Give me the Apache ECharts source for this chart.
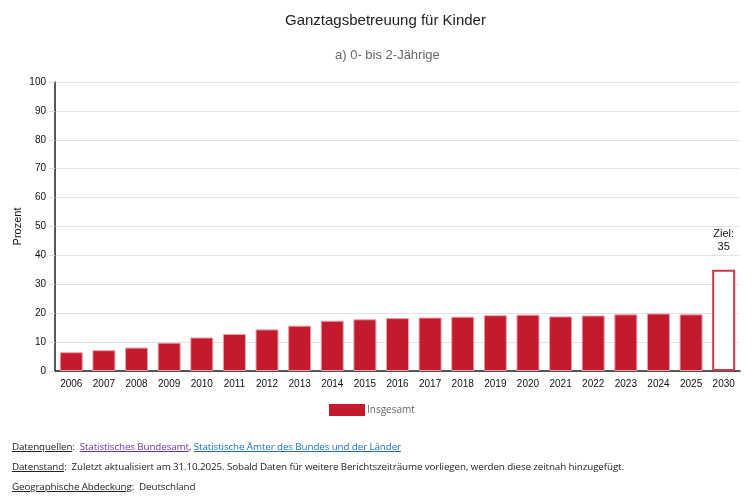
<!DOCTYPE html>
<html>
<head>
<meta charset="utf-8">
<script src="https://cdn.jsdelivr.net/npm/echarts@6/dist/echarts.min.js"></script>
<style>
  html, body { margin: 0; padding: 0; background: #fff; }
  #chart { position: absolute; left: 0; top: 0; width: 753px; height: 497px; }
  .foot { position: absolute; left: 12px; font-family: "Open Sans", sans-serif; font-size: 9.8px; color: #222; letter-spacing: -0.1px; }
  .foot u { text-decoration: underline; }
  .foot a { text-decoration: underline; }
</style>
</head>
<body>
<div id="chart"></div>
<div class="foot" style="top:440px"><u>Datenquellen</u>:&nbsp; <a style="color:#6633aa">Statistisches Bundesamt</a>, <a style="color:#1a6fc4">Statistische Ämter des Bundes und der Länder</a></div>
<div class="foot" style="top:460px"><u>Datenstand</u>:&nbsp; Zuletzt aktualisiert am 31.10.2025. Sobald Daten für weitere Berichtszeiträume vorliegen, werden diese zeitnah hinzugefügt.</div>
<div class="foot" style="top:480px"><u>Geographische Abdeckung</u>:&nbsp; Deutschland</div>
<script>
// Werte
const years = ["2006", "2007", "2008", "2009", "2010", "2011", "2012", "2013", "2014", "2015",
  "2016", "2017", "2018", "2019", "2020", "2021", "2022", "2023", "2024", "2025", "2030"];
const insgesamt = [6.5, 7.2, 8.1, 9.8, 11.6, 12.8, 14.4, 15.7, 17.4, 17.9,
  18.3, 18.5, 18.8, 19.3, 19.5, 18.9, 19.2, 19.6, 19.9, 19.6];
const zielJahr = "2030";
const zielWert = 35;
const yTicks = { min: 0, max: 100, interval: 10 };

const red = "#c41a2e";

const data = years.map((y, i) => {
  if (y === zielJahr) {
    return {
      value: zielWert,
      itemStyle: { color: "#fff", borderColor: "#d0374a", borderWidth: 2 },
      label: {
        show: true, position: "top", distance: 16,
        formatter: "Ziel:\n" + zielWert,
        color: "#111", fontSize: 11, fontFamily: "Arial", lineHeight: 13
      }
    };
  }
  return insgesamt[i];
});

const chart = echarts.init(document.getElementById("chart"), null, { renderer: "canvas" });
chart.setOption({
  animation: false,
  title: [
    { text: "Ganztagsbetreuung für Kinder", left: 280, top: 8,
      textStyle: { fontSize: 15, fontWeight: "normal", color: "#222", fontFamily: "Arial" } },
    { text: "a) 0- bis 2-Jährige", left: 330, top: 44,
      textStyle: { fontSize: 13, fontWeight: "normal", color: "#666", fontFamily: "Arial" } }
  ],
  legend: {
    bottom: 76, left: 324,
    icon: "rect",
    itemWidth: 36, itemHeight: 12, itemGap: 4,
    textStyle: { color: "#666", fontSize: 10, fontFamily: "Open Sans", padding: [0, 0, 0, -3] },
    data: [{ name: "Insgesamt", itemStyle: { color: red, borderWidth: 0 } }]
  },
  grid: { left: 55, right: 13, top: 82, bottom: 126 },
  xAxis: {
    type: "category",
    data: years,
    axisLine: { lineStyle: { color: "#222", width: 1.5 } },
    axisTick: { show: false },
    axisLabel: { color: "#111", fontSize: 10, fontFamily: "Arial", margin: 8 }
  },
  yAxis: {
    type: "value",
    min: yTicks.min, max: yTicks.max, interval: yTicks.interval,
    name: "Prozent", nameLocation: "middle", nameGap: 32, nameMoveOverlap: false,
    nameTextStyle: { color: "#111", fontSize: 11, fontFamily: "Arial" },
    axisLine: { show: true, lineStyle: { color: "#222", width: 1.5 } },
    axisTick: { show: true, length: 6, lineStyle: { color: "#ddd" } },
    axisLabel: { color: "#111", fontSize: 10, fontFamily: "Arial", margin: 9 },
    splitLine: { lineStyle: { color: "#e3e3e3" } }
  },
  series: [{
    name: "Insgesamt",
    type: "bar",
    data: data,
    barWidth: 23,
    itemStyle: { color: red, borderColor: "#e8a0aa", borderWidth: 1 }
  }]
});
</script>
</body>
</html>
